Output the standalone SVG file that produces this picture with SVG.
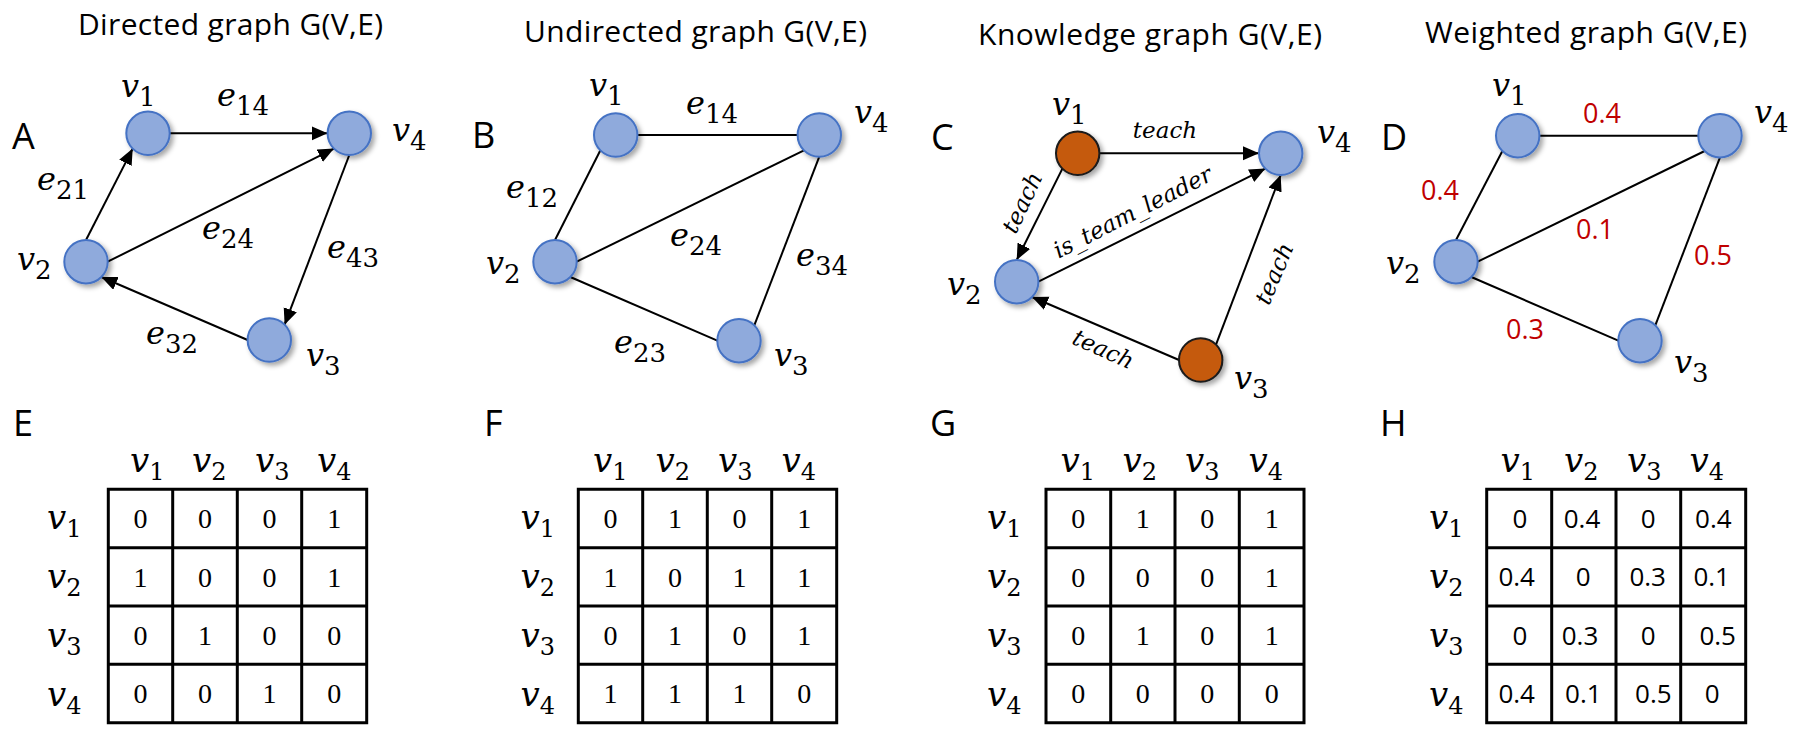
<svg xmlns="http://www.w3.org/2000/svg" width="1798" height="746" viewBox="0 0 1798 746">
<style>
.bg{fill:#fff}
.title{font-family:"Open Sans","Liberation Sans",sans-serif;font-size:30px;fill:#000}
.pl{font-family:"Open Sans","Liberation Sans",sans-serif;font-size:36px;fill:#000}
.nb{fill:#8FAADC;stroke:#4472C4;stroke-width:2}
.no{fill:#C55A11;stroke:#1a1a1a;stroke-width:2}
.mv{font-family:"DejaVu Serif",serif;font-style:italic;font-size:32px;fill:#000}
.ms{font-style:normal;font-size:26px}
.hv{font-family:"DejaVu Serif",serif;font-style:italic;font-size:34px;fill:#000}
.hs{font-style:normal;font-size:24px}
.edge{stroke:#000;stroke-width:2;fill:none}
.arr{marker-end:url(#ah)}
.rl{font-family:"DejaVu Serif",serif;font-style:italic;font-size:23px;fill:#000;text-anchor:middle}
.w{font-family:"Open Sans","Liberation Sans",sans-serif;font-size:27px;fill:#C00000}
.grid{stroke:#000;stroke-width:3;fill:none}
.cn{font-family:"Liberation Serif","Times New Roman",serif;font-size:28px;fill:#000;text-anchor:middle}
.cw{font-family:"Open Sans","Liberation Sans",sans-serif;font-size:26px;fill:#000;text-anchor:middle}
</style>
<defs>
<marker id="ah" markerUnits="userSpaceOnUse" markerWidth="17" markerHeight="15" refX="16" refY="7" orient="auto">
<path d="M0,0 L16,7 L0,14 Z" fill="#000"/>
</marker>
<filter id="sh" x="-50%" y="-50%" width="200%" height="200%">
<feDropShadow dx="3" dy="3" stdDeviation="2.5" flood-color="#000" flood-opacity="0.35"/>
</filter>
</defs>
<rect class="bg" x="0" y="0" width="1798" height="746"/>

<g id="titles">
<text class="title" x="78" y="35" textLength="305">Directed graph G(V,E)</text>
<text class="title" x="524" y="42" textLength="343">Undirected graph G(V,E)</text>
<text class="title" x="978" y="45" textLength="344">Knowledge graph G(V,E)</text>
<text class="title" x="1425" y="43" textLength="322">Weighted graph G(V,E)</text>
</g>
<g id="panel-letters">
<text class="pl" x="12" y="149">A</text>
<text class="pl" x="472" y="148">B</text>
<text class="pl" x="931" y="150">C</text>
<text class="pl" x="1381" y="150">D</text>
<text class="pl" x="13" y="436">E</text>
<text class="pl" x="484" y="436">F</text>
<text class="pl" x="930" y="436">G</text>
<text class="pl" x="1380" y="436">H</text>
</g>

<g id="A-connectors">
<path class="edge arr" d="M170,133.3 L327.6,133.3"/>
<path class="edge arr" d="M86,240 L132.7,148.6"/>
<path class="edge arr" d="M107.7,261.7 L334,148.6"/>
<path class="edge arr" d="M349.3,155 L284.6,324.7"/>
<path class="edge arr" d="M247.6,340 L101.3,277"/>
<text class="mv" x="217" y="106">e<tspan class="ms" dy="9">14</tspan></text>
<text class="mv" x="37" y="190">e<tspan class="ms" dy="9">21</tspan></text>
<text class="mv" x="202" y="239">e<tspan class="ms" dy="9">24</tspan></text>
<text class="mv" x="327" y="258">e<tspan class="ms" dy="9">43</tspan></text>
<text class="mv" x="146" y="344">e<tspan class="ms" dy="9">32</tspan></text>
</g>
<g id="A-v1"><circle class="nb" cx="148" cy="133.3" r="21.7" filter="url(#sh)"/><text class="mv" x="121" y="97">v<tspan class="ms" dy="9">1</tspan></text></g>
<g id="A-v4"><circle class="nb" cx="349.3" cy="133.3" r="21.7" filter="url(#sh)"/><text class="mv" x="392" y="141">v<tspan class="ms" dy="9">4</tspan></text></g>
<g id="A-v2"><circle class="nb" cx="86" cy="261.7" r="21.7" filter="url(#sh)"/><text class="mv" x="17" y="270">v<tspan class="ms" dy="9">2</tspan></text></g>
<g id="A-v3"><circle class="nb" cx="269.3" cy="340" r="21.7" filter="url(#sh)"/><text class="mv" x="306" y="366">v<tspan class="ms" dy="9">3</tspan></text></g>

<g id="B-connectors">
<path class="edge" d="M637.4,135 L797.6,135"/>
<path class="edge" d="M600.4,150.3 L555,240"/>
<path class="edge" d="M576.7,261.7 L804,150.3"/>
<path class="edge" d="M570.3,277 L717.3,340.7"/>
<path class="edge" d="M819.3,156.7 L754.3,325.4"/>
<text class="mv" x="686" y="114">e<tspan class="ms" dy="9">14</tspan></text>
<text class="mv" x="506" y="198">e<tspan class="ms" dy="9">12</tspan></text>
<text class="mv" x="670" y="246">e<tspan class="ms" dy="9">24</tspan></text>
<text class="mv" x="796" y="266">e<tspan class="ms" dy="9">34</tspan></text>
<text class="mv" x="614" y="353">e<tspan class="ms" dy="9">23</tspan></text>
</g>
<g id="B-v1"><circle class="nb" cx="615.7" cy="135" r="21.7" filter="url(#sh)"/><text class="mv" x="589" y="96">v<tspan class="ms" dy="9">1</tspan></text></g>
<g id="B-v4"><circle class="nb" cx="819.3" cy="135" r="21.7" filter="url(#sh)"/><text class="mv" x="854" y="123">v<tspan class="ms" dy="9">4</tspan></text></g>
<g id="B-v2"><circle class="nb" cx="555" cy="261.7" r="21.7" filter="url(#sh)"/><text class="mv" x="486" y="274">v<tspan class="ms" dy="9">2</tspan></text></g>
<g id="B-v3"><circle class="nb" cx="739" cy="340.7" r="21.7" filter="url(#sh)"/><text class="mv" x="774" y="366">v<tspan class="ms" dy="9">3</tspan></text></g>

<g id="C-connectors">
<path class="edge arr" d="M1099.4,153.3 L1259,153.3"/>
<path class="edge arr" d="M1062.4,168.6 L1016.7,260"/>
<path class="edge arr" d="M1038.4,281.7 L1265.4,168.6"/>
<path class="edge arr" d="M1216,344.7 L1280.7,175"/>
<path class="edge arr" d="M1179,360 L1032,297"/>
<text class="rl" x="1165" y="138">teach</text>
<text class="rl" x="1023" y="210" transform="rotate(-65 1023 203)">teach</text>
<text class="rl" x="1133" y="220" transform="rotate(-27 1133 213)">is_team_leader</text>
<text class="rl" x="1275" y="281" transform="rotate(-67 1275 274)">teach</text>
<text class="rl" x="1103" y="357" transform="rotate(24 1103 350)">teach</text>
</g>
<g id="C-v1"><circle class="no" cx="1077.7" cy="153.3" r="21.7" filter="url(#sh)"/><text class="mv" x="1052" y="115">v<tspan class="ms" dy="9">1</tspan></text></g>
<g id="C-v4"><circle class="nb" cx="1280.7" cy="153.3" r="21.7" filter="url(#sh)"/><text class="mv" x="1317" y="143">v<tspan class="ms" dy="9">4</tspan></text></g>
<g id="C-v2"><circle class="nb" cx="1016.7" cy="281.7" r="21.7" filter="url(#sh)"/><text class="mv" x="947" y="295">v<tspan class="ms" dy="9">2</tspan></text></g>
<g id="C-v3"><circle class="no" cx="1200.7" cy="360" r="21.7" filter="url(#sh)"/><text class="mv" x="1234" y="389">v<tspan class="ms" dy="9">3</tspan></text></g>

<g id="D-connectors">
<path class="edge" d="M1539.4,135.7 L1698.3,135.7"/>
<path class="edge" d="M1502.4,151 L1456,240"/>
<path class="edge" d="M1477.7,261.7 L1704.7,151"/>
<path class="edge" d="M1471.3,277 L1618.3,340.7"/>
<path class="edge" d="M1720,157.4 L1655.3,325.4"/>
<text class="w" x="1583" y="123">0.4</text>
<text class="w" x="1421" y="200">0.4</text>
<text class="w" x="1576" y="239">0.1</text>
<text class="w" x="1694" y="265">0.5</text>
<text class="w" x="1506" y="339">0.3</text>
</g>
<g id="D-v1"><circle class="nb" cx="1517.7" cy="135.7" r="21.7" filter="url(#sh)"/><text class="mv" x="1492" y="96">v<tspan class="ms" dy="9">1</tspan></text></g>
<g id="D-v4"><circle class="nb" cx="1720" cy="135.7" r="21.7" filter="url(#sh)"/><text class="mv" x="1754" y="123">v<tspan class="ms" dy="9">4</tspan></text></g>
<g id="D-v2"><circle class="nb" cx="1456" cy="261.7" r="21.7" filter="url(#sh)"/><text class="mv" x="1386" y="274">v<tspan class="ms" dy="9">2</tspan></text></g>
<g id="D-v3"><circle class="nb" cx="1640" cy="340.7" r="21.7" filter="url(#sh)"/><text class="mv" x="1674" y="373">v<tspan class="ms" dy="9">3</tspan></text></g>

<g id="table-E">
<path class="grid" d="M108.3,489.3 H366.7 V722.7 H108.3 Z M172.7,489.3 V722.7 M237.3,489.3 V722.7 M301.7,489.3 V722.7 M108.3,547.7 H366.7 M108.3,606 H366.7 M108.3,664.3 H366.7"/>
<text class="hv" x="130" y="472">v<tspan class="hs" dy="8">1</tspan></text>
<text class="hv" x="192" y="472">v<tspan class="hs" dy="8">2</tspan></text>
<text class="hv" x="255" y="472">v<tspan class="hs" dy="8">3</tspan></text>
<text class="hv" x="317" y="472">v<tspan class="hs" dy="8">4</tspan></text>
<text class="hv" x="47" y="529">v<tspan class="hs" dy="8">1</tspan></text>
<text class="hv" x="47" y="588">v<tspan class="hs" dy="8">2</tspan></text>
<text class="hv" x="47" y="647">v<tspan class="hs" dy="8">3</tspan></text>
<text class="hv" x="47" y="706">v<tspan class="hs" dy="8">4</tspan></text>
<text class="cn" x="140.5" y="528">0</text><text class="cn" x="205" y="528">0</text><text class="cn" x="269.5" y="528">0</text><text class="cn" x="334.2" y="528">1</text>
<text class="cn" x="140.5" y="586.5">1</text><text class="cn" x="205" y="586.5">0</text><text class="cn" x="269.5" y="586.5">0</text><text class="cn" x="334.2" y="586.5">1</text>
<text class="cn" x="140.5" y="645">0</text><text class="cn" x="205" y="645">1</text><text class="cn" x="269.5" y="645">0</text><text class="cn" x="334.2" y="645">0</text>
<text class="cn" x="140.5" y="703">0</text><text class="cn" x="205" y="703">0</text><text class="cn" x="269.5" y="703">1</text><text class="cn" x="334.2" y="703">0</text>
</g>

<g id="table-F">
<path class="grid" d="M578.3,489.3 H836.7 V722.7 H578.3 Z M642.7,489.3 V722.7 M707.3,489.3 V722.7 M771.7,489.3 V722.7 M578.3,547.7 H836.7 M578.3,606 H836.7 M578.3,664.3 H836.7"/>
<text class="hv" x="593" y="472">v<tspan class="hs" dy="8">1</tspan></text>
<text class="hv" x="655.5" y="472">v<tspan class="hs" dy="8">2</tspan></text>
<text class="hv" x="718" y="472">v<tspan class="hs" dy="8">3</tspan></text>
<text class="hv" x="781.5" y="472">v<tspan class="hs" dy="8">4</tspan></text>
<text class="hv" x="520.5" y="529">v<tspan class="hs" dy="8">1</tspan></text>
<text class="hv" x="520.5" y="588">v<tspan class="hs" dy="8">2</tspan></text>
<text class="hv" x="520.5" y="647">v<tspan class="hs" dy="8">3</tspan></text>
<text class="hv" x="520.5" y="706">v<tspan class="hs" dy="8">4</tspan></text>
<text class="cn" x="610.5" y="528">0</text><text class="cn" x="675" y="528">1</text><text class="cn" x="739.5" y="528">0</text><text class="cn" x="804.2" y="528">1</text>
<text class="cn" x="610.5" y="586.5">1</text><text class="cn" x="675" y="586.5">0</text><text class="cn" x="739.5" y="586.5">1</text><text class="cn" x="804.2" y="586.5">1</text>
<text class="cn" x="610.5" y="645">0</text><text class="cn" x="675" y="645">1</text><text class="cn" x="739.5" y="645">0</text><text class="cn" x="804.2" y="645">1</text>
<text class="cn" x="610.5" y="703">1</text><text class="cn" x="675" y="703">1</text><text class="cn" x="739.5" y="703">1</text><text class="cn" x="804.2" y="703">0</text>
</g>

<g id="table-G">
<path class="grid" d="M1046,489.3 H1304 V722.7 H1046 Z M1110.7,489.3 V722.7 M1175,489.3 V722.7 M1239.3,489.3 V722.7 M1046,547.7 H1304 M1046,606 H1304 M1046,664.3 H1304"/>
<text class="hv" x="1060.5" y="472">v<tspan class="hs" dy="8">1</tspan></text>
<text class="hv" x="1122.5" y="472">v<tspan class="hs" dy="8">2</tspan></text>
<text class="hv" x="1185" y="472">v<tspan class="hs" dy="8">3</tspan></text>
<text class="hv" x="1248.5" y="472">v<tspan class="hs" dy="8">4</tspan></text>
<text class="hv" x="987" y="529">v<tspan class="hs" dy="8">1</tspan></text>
<text class="hv" x="987" y="588">v<tspan class="hs" dy="8">2</tspan></text>
<text class="hv" x="987" y="647">v<tspan class="hs" dy="8">3</tspan></text>
<text class="hv" x="987" y="706">v<tspan class="hs" dy="8">4</tspan></text>
<text class="cn" x="1078.3" y="528">0</text><text class="cn" x="1142.8" y="528">1</text><text class="cn" x="1207.2" y="528">0</text><text class="cn" x="1271.7" y="528">1</text>
<text class="cn" x="1078.3" y="586.5">0</text><text class="cn" x="1142.8" y="586.5">0</text><text class="cn" x="1207.2" y="586.5">0</text><text class="cn" x="1271.7" y="586.5">1</text>
<text class="cn" x="1078.3" y="645">0</text><text class="cn" x="1142.8" y="645">1</text><text class="cn" x="1207.2" y="645">0</text><text class="cn" x="1271.7" y="645">1</text>
<text class="cn" x="1078.3" y="703">0</text><text class="cn" x="1142.8" y="703">0</text><text class="cn" x="1207.2" y="703">0</text><text class="cn" x="1271.7" y="703">0</text>
</g>

<g id="table-H">
<path class="grid" d="M1486.7,489.3 H1745.7 V722.7 H1486.7 Z M1551.7,489.3 V722.7 M1616,489.3 V722.7 M1680.7,489.3 V722.7 M1486.7,547.7 H1745.7 M1486.7,606 H1745.7 M1486.7,664.3 H1745.7"/>
<text class="hv" x="1500.5" y="472">v<tspan class="hs" dy="8">1</tspan></text>
<text class="hv" x="1564" y="472">v<tspan class="hs" dy="8">2</tspan></text>
<text class="hv" x="1627" y="472">v<tspan class="hs" dy="8">3</tspan></text>
<text class="hv" x="1689.5" y="472">v<tspan class="hs" dy="8">4</tspan></text>
<text class="hv" x="1429" y="529">v<tspan class="hs" dy="8">1</tspan></text>
<text class="hv" x="1429" y="588">v<tspan class="hs" dy="8">2</tspan></text>
<text class="hv" x="1429" y="647">v<tspan class="hs" dy="8">3</tspan></text>
<text class="hv" x="1429" y="706">v<tspan class="hs" dy="8">4</tspan></text>
<text class="cw" x="1520" y="528">0</text><text class="cw" x="1582" y="528">0.4</text><text class="cw" x="1648.3" y="528">0</text><text class="cw" x="1713.3" y="528">0.4</text>
<text class="cw" x="1516.7" y="586">0.4</text><text class="cw" x="1583.3" y="586">0</text><text class="cw" x="1647.7" y="586">0.3</text><text class="cw" x="1711.7" y="586">0.1</text>
<text class="cw" x="1520" y="645">0</text><text class="cw" x="1580" y="645">0.3</text><text class="cw" x="1648.3" y="645">0</text><text class="cw" x="1717.7" y="645">0.5</text>
<text class="cw" x="1516.7" y="702.5">0.4</text><text class="cw" x="1583.3" y="702.5">0.1</text><text class="cw" x="1653.3" y="702.5">0.5</text><text class="cw" x="1712.3" y="702.5">0</text>
</g>
</svg>
